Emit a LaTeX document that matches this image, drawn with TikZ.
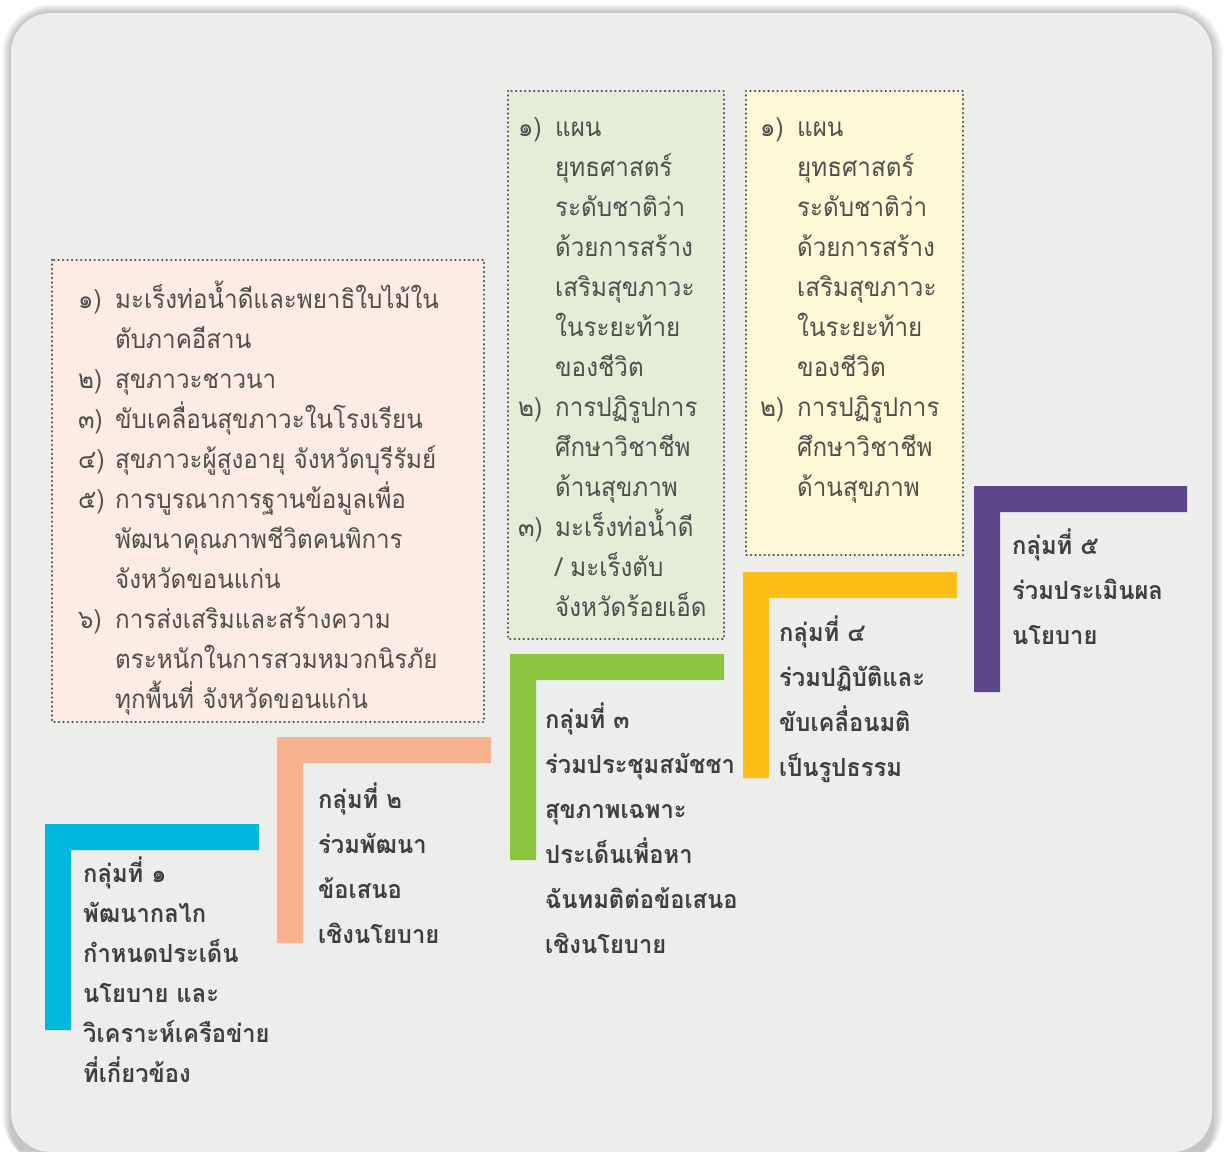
\documentclass[tikz,border=0pt]{standalone}
\usepackage{fontspec}
\newfontfamily\thai[Script=Thai,FakeStretch=0.95]{Loma}
\newfontfamily\thaiL[Script=Thai,FakeStretch=0.93]{Loma}
\definecolor{cardbg}{HTML}{EDEEEC}
\definecolor{pinkfill}{HTML}{FDECE4}
\definecolor{greenfill}{HTML}{E4EDD5}
\definecolor{yellowfill}{HTML}{FEF8D6}
\definecolor{cyanbar}{HTML}{00B8DE}
\definecolor{salmonbar}{HTML}{F8B290}
\definecolor{greenbar}{HTML}{8BC43F}
\definecolor{goldbar}{HTML}{FDBF17}
\definecolor{purplebar}{HTML}{5E468D}
\definecolor{listtext}{HTML}{4F4F4F}
\definecolor{boldtext}{HTML}{3F3F3F}
\definecolor{dotcol}{HTML}{454545}
\tikzset{
  listbox/.style={draw=dotcol, line width=2.6pt, dash pattern=on 0.01pt off 4.5pt, line cap=round},
  listtxt/.style={anchor=base west, inner sep=0pt, align=left, text=listtext, font={\thaiL\fontsize{26}{40}\selectfont}},
  grptxt/.style={anchor=base west, inner sep=0pt, align=left, text=boldtext, font={\thai\bfseries\fontsize{25}{45}\selectfont}},
}
\newcommand{\num}[1]{\makebox[37pt][l]{#1}}
\newcommand{\ind}{\hspace*{37pt}}
\begin{document}
\begin{tikzpicture}[x=1pt,y=-1pt]
\useasboundingbox (0,0) rectangle (1225,1151);
\fill[white] (0,0) rectangle (1225,1151);
% shadow
\foreach \i in {1,...,10}{
  \fill[black, opacity=0.022, rounded corners=40+\i] (11-\i*0.9,13-\i*0.9) rectangle (1212+\i*1.1,1165);
}
% card
\fill[cardbg, rounded corners=40] (11,13) rectangle (1212,1152);

% list boxes
\path[listbox, fill=pinkfill] (52,260) rectangle (484,722);
\path[listbox, fill=greenfill] (508,91) rectangle (724,639);
\path[listbox, fill=yellowfill] (746,91) rectangle (963,555);

% multi-line nodes: base anchor is the last line's baseline
\node[listtxt] (pinklist) at (78,708) {%
\num{๑)}มะเร็งท่อน้ำดีและพยาธิใบไม้ใน\\
\ind ตับภาคอีสาน\\
\num{๒)}สุขภาวะชาวนา\\
\num{๓)}ขับเคลื่อนสุขภาวะในโรงเรียน\\
\num{๔)}สุขภาวะผู้สูงอายุ จังหวัดบุรีรัมย์\\
\num{๕)}การบูรณาการฐานข้อมูลเพื่อ\\
\ind พัฒนาคุณภาพชีวิตคนพิการ\\
\ind จังหวัดขอนแก่น\\
\num{๖)}การส่งเสริมและสร้างความ\\
\ind ตระหนักในการสวมหมวกนิรภัย\\
\ind ทุกพื้นที่ จังหวัดขอนแก่น};

\node[listtxt] (greenlist) at (518,616) {%
\num{๑)}แผน\\
\ind ยุทธศาสตร์\\
\ind ระดับชาติว่า\\
\ind ด้วยการสร้าง\\
\ind เสริมสุขภาวะ\\
\ind ในระยะท้าย\\
\ind ของชีวิต\\
\num{๒)}การปฏิรูปการ\\
\ind ศึกษาวิชาชีพ\\
\ind ด้านสุขภาพ\\
\num{๓)}มะเร็งท่อน้ำดี\\
\ind / มะเร็งตับ\\
\ind จังหวัดร้อยเอ็ด};

\node[listtxt] (yellowlist) at (760,496) {%
\num{๑)}แผน\\
\ind ยุทธศาสตร์\\
\ind ระดับชาติว่า\\
\ind ด้วยการสร้าง\\
\ind เสริมสุขภาวะ\\
\ind ในระยะท้าย\\
\ind ของชีวิต\\
\num{๒)}การปฏิรูปการ\\
\ind ศึกษาวิชาชีพ\\
\ind ด้านสุขภาพ};

% L-shaped markers
\fill[cyanbar] (45,824) -- (259,824) -- (259,850) -- (71,850) -- (71,1030) -- (45,1030) -- cycle;
\fill[salmonbar] (277,737) -- (491,737) -- (491,763) -- (303,763) -- (303,943) -- (277,943) -- cycle;
\fill[greenbar] (510,654) -- (724,654) -- (724,680) -- (536,680) -- (536,860) -- (510,860) -- cycle;
\fill[goldbar] (743,572) -- (957,572) -- (957,598) -- (769,598) -- (769,778) -- (743,778) -- cycle;
\fill[purplebar] (974,486) -- (1187,486) -- (1187,512) -- (1000,512) -- (1000,692) -- (974,692) -- cycle;

\node[grptxt, font={\thai\bfseries\fontsize{25}{40}\selectfont}] (g1) at (83,1082) {%
กลุ่มที่ ๑\\พัฒนากลไก\\กำหนดประเด็น\\นโยบาย และ\\วิเคราะห์เครือข่าย\\ที่เกี่ยวข้อง};
\node[grptxt] (g2) at (318,943) {%
กลุ่มที่ ๒\\ร่วมพัฒนา\\ข้อเสนอ\\เชิงนโยบาย};
\node[grptxt] (g3) at (545,953) {%
กลุ่มที่ ๓\\ร่วมประชุมสมัชชา\\สุขภาพเฉพาะ\\ประเด็นเพื่อหา\\ฉันทมติต่อข้อเสนอ\\เชิงนโยบาย};
\node[grptxt] (g4) at (779,776) {%
กลุ่มที่ ๔\\ร่วมปฏิบัติและ\\ขับเคลื่อนมติ\\เป็นรูปธรรม};
\node[grptxt] (g5) at (1012,644) {%
กลุ่มที่ ๕\\ร่วมประเมินผล\\นโยบาย};
\end{tikzpicture}
\end{document}
